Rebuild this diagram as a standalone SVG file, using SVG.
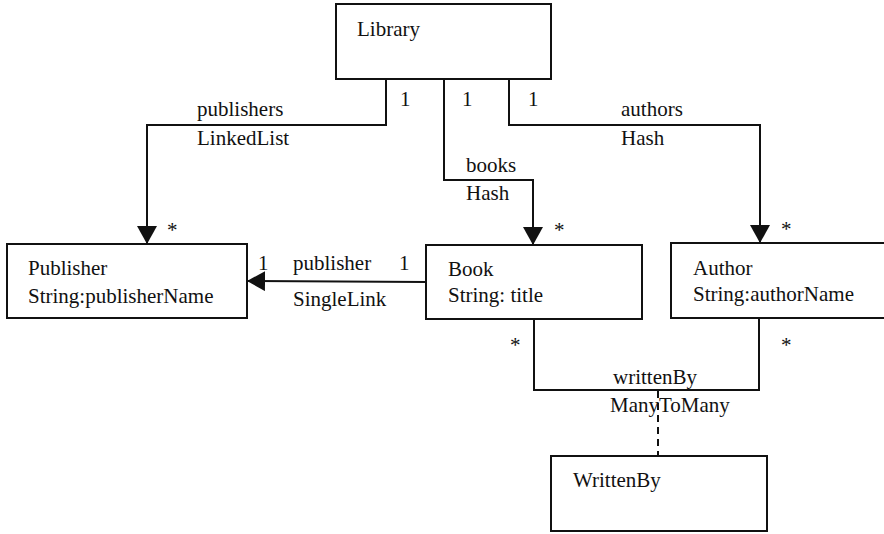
<svg xmlns="http://www.w3.org/2000/svg" width="884" height="534" viewBox="0 0 884 534">
  <style>
    .box { fill: #fff; stroke: #111; stroke-width: 2; }
    .edge { fill: none; stroke: #111; stroke-width: 2; }
    .dash { fill: none; stroke: #111; stroke-width: 2; stroke-dasharray: 7 5; }
    text { font-family: "Liberation Serif", "Times New Roman", serif; font-size: 21px; fill: #111; }
  </style>
  <defs>
    <marker id="arrow" viewBox="0 0 18 20" refX="18" refY="10" markerWidth="18" markerHeight="20" markerUnits="userSpaceOnUse" orient="auto">
      <path d="M0,0 L18,10 L0,20 Z" fill="#111"/>
    </marker>
  </defs>

  <g id="connectors">
    <!-- Library to Publisher -->
    <polyline class="edge" points="386,79 386,125 147,125 147,244" marker-end="url(#arrow)"/>
    <!-- Library to Book -->
    <polyline class="edge" points="444,79 444,180 533,180 533,245" marker-end="url(#arrow)"/>
    <!-- Library to Author -->
    <polyline class="edge" points="509,79 509,125 760,125 760,243" marker-end="url(#arrow)"/>
    <!-- Book to Publisher -->
    <line class="edge" x1="426" y1="282" x2="247" y2="281" marker-end="url(#arrow)"/>
    <!-- Book and Author written-by association -->
    <polyline class="edge" points="534,319 534,390 759,390 759,318"/>
    <!-- association class link -->
    <line class="dash" x1="658" y1="391" x2="658" y2="456"/>

    <text x="400" y="106">1</text>
    <text x="462" y="106">1</text>
    <text x="528" y="106">1</text>
    <text x="197" y="116">publishers</text>
    <text x="197" y="145">LinkedList</text>
    <text x="167" y="237">*</text>
    <text x="554" y="237">*</text>
    <text x="781" y="236">*</text>
    <text x="466" y="172">books</text>
    <text x="466" y="200">Hash</text>
    <text x="621" y="116">authors</text>
    <text x="621" y="145">Hash</text>
    <text x="258" y="270">1</text>
    <text x="293" y="270">publisher</text>
    <text x="399" y="270">1</text>
    <text x="293" y="306">SingleLink</text>
    <text x="510" y="352">*</text>
    <text x="781" y="352">*</text>
    <text x="613" y="384">writtenBy</text>
    <text x="610" y="412">ManyToMany</text>
  </g>

  <g id="library">
    <rect class="box" x="336" y="4" width="215" height="75"/>
    <text x="357" y="36">Library</text>
  </g>

  <g id="publisher">
    <rect class="box" x="7" y="244" width="240" height="74"/>
    <text x="28" y="275">Publisher</text>
    <text x="28" y="303">String:publisherName</text>
  </g>

  <g id="book">
    <rect class="box" x="426" y="245" width="216" height="74"/>
    <text x="448" y="276">Book</text>
    <text x="448" y="302">String: title</text>
  </g>

  <g id="author">
    <rect class="box" x="671" y="243" width="220" height="75"/>
    <text x="693" y="275">Author</text>
    <text x="693" y="301">String:authorName</text>
  </g>

  <g id="writtenBy">
    <rect class="box" x="551" y="456" width="216" height="75"/>
    <text x="573" y="487">WrittenBy</text>
  </g>
</svg>
